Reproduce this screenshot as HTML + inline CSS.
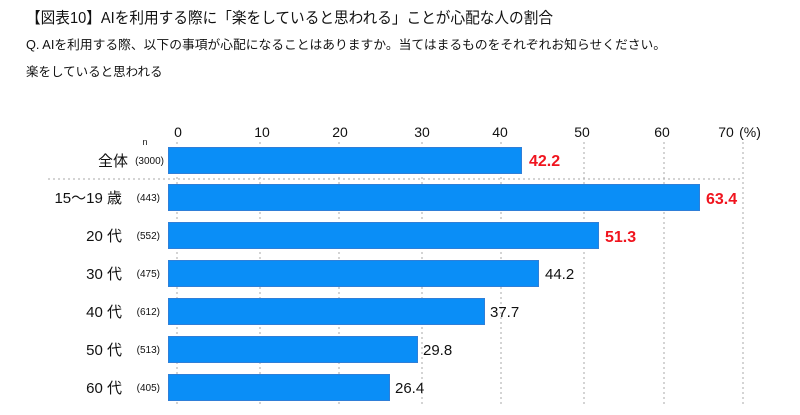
<!DOCTYPE html>
<html><head><meta charset="utf-8"><style>
body{margin:0;background:#fff}
svg{display:block;font-family:"Liberation Sans","Noto Sans CJK JP",sans-serif}
</style></head><body>
<svg width="800" height="415" viewBox="0 0 800 415" xmlns="http://www.w3.org/2000/svg">
<text x="26" y="23" font-size="15.5" fill="#111" textLength="527" lengthAdjust="spacingAndGlyphs">【図表10】AIを利用する際に「楽をしていると思われる」ことが心配な人の割合</text>
<text x="26" y="49" font-size="12.5" fill="#111" textLength="640" lengthAdjust="spacingAndGlyphs">Q. AIを利用する際、以下の事項が心配になることはありますか。当てはまるものをそれぞれお知らせください。</text>
<text x="26" y="76" font-size="12.5" fill="#111">楽をしていると思われる</text>
<g stroke="#aaa" stroke-width="1" stroke-dasharray="2,3">
<line x1="177" y1="142" x2="177" y2="405"/><line x1="260" y1="142" x2="260" y2="405"/>
<line x1="339" y1="142" x2="339" y2="405"/><line x1="422" y1="142" x2="422" y2="405"/>
<line x1="501" y1="142" x2="501" y2="405"/><line x1="584" y1="142" x2="584" y2="405"/>
<line x1="664" y1="142" x2="664" y2="405"/><line x1="743" y1="142" x2="743" y2="405"/>
<line x1="48" y1="179" x2="743" y2="179"/>
</g>
<g font-size="14" fill="#111" text-anchor="middle">
<text x="178" y="137">0</text><text x="262" y="137">10</text><text x="340" y="137">20</text>
<text x="422" y="137">30</text><text x="500" y="137">40</text><text x="582" y="137">50</text>
<text x="662" y="137">60</text><text x="726" y="137">70</text><text x="750" y="137">(%)</text>
</g>
<text x="145" y="145" font-size="9" fill="#111" text-anchor="middle">n</text>
<g fill="#0a8ef7" stroke="#2f7fd8" stroke-width="1">
<rect x="168.5" y="147.5" width="353" height="26"/>
<rect x="168.5" y="184.5" width="531" height="26"/>
<rect x="168.5" y="222.5" width="430" height="26"/>
<rect x="168.5" y="260.5" width="370" height="26"/>
<rect x="168.5" y="298.5" width="316" height="26"/>
<rect x="168.5" y="336.5" width="249" height="26"/>
<rect x="168.5" y="374.5" width="221" height="26"/>
</g>
<g font-size="15" fill="#111" text-anchor="end">
<text x="128" y="166">全体</text>
<text x="122" y="203">15～19 歳</text>
<text x="122" y="241">20 代</text>
<text x="122" y="279">30 代</text>
<text x="122" y="317">40 代</text>
<text x="122" y="355">50 代</text>
<text x="122" y="393">60 代</text>
</g>
<g font-size="10" fill="#111" text-anchor="end">
<text x="164" y="164">(3000)</text><text x="160" y="201">(443)</text><text x="160" y="239">(552)</text>
<text x="160" y="277">(475)</text><text x="160" y="315">(612)</text><text x="160" y="353">(513)</text><text x="160" y="391">(405)</text>
</g>
<g font-size="16" font-weight="bold" fill="#f0141e">
<text x="529" y="166">42.2</text><text x="706" y="204">63.4</text><text x="605" y="242">51.3</text>
</g>
<g font-size="15" fill="#111">
<text x="545" y="279">44.2</text><text x="490" y="317">37.7</text><text x="423" y="355">29.8</text><text x="395" y="393">26.4</text>
</g>
</svg>
</body></html>
